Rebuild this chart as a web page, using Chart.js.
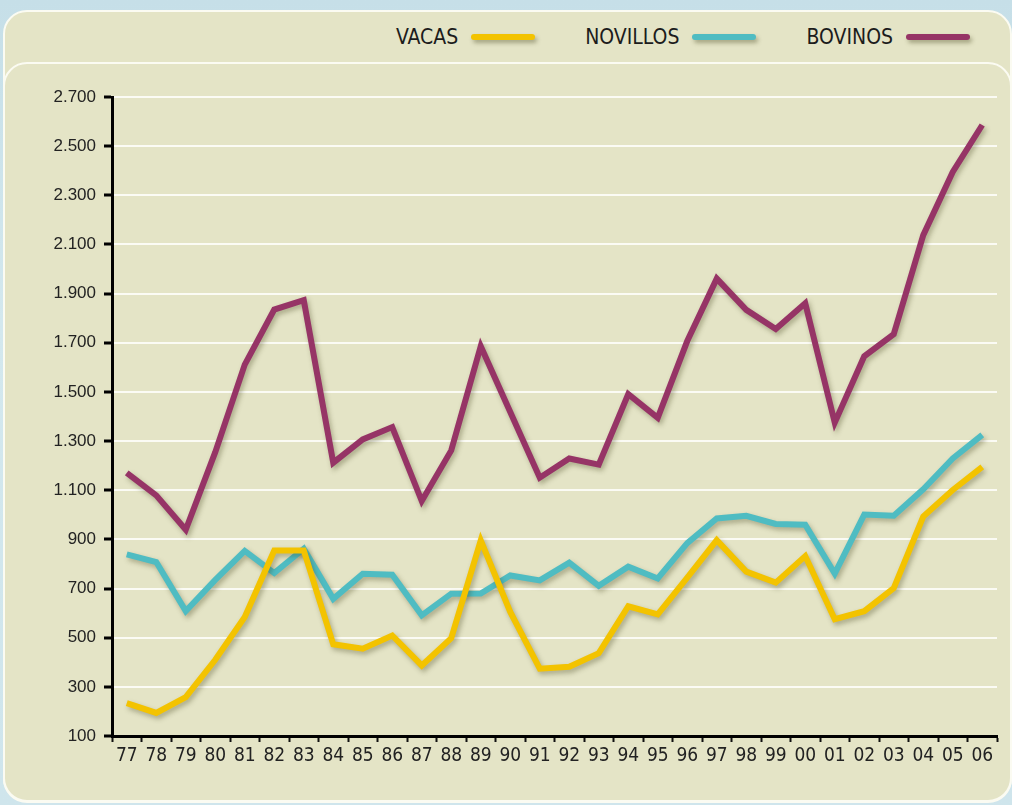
<!DOCTYPE html>
<html>
<head>
<meta charset="utf-8">
<script src="https://cdn.jsdelivr.net/npm/chart.js@4.4.1/dist/chart.umd.min.js"></script>
<style>
  html, body { margin: 0; padding: 0; }
  body {
    width: 1012px; height: 805px; overflow: hidden; position: relative;
    background: linear-gradient(180deg, #c6dfe8 0%, #d3e8ee 40%, #cfe5ec 100%);
  }
  .panel {
    position: absolute; left: 3px; top: 10px; width: 1005px; height: 789px;
    background: #e4e4c6; border: 2px solid #fbfbf2; border-radius: 24px;
  }
  .inner {
    position: absolute; left: 3px; top: 62px; width: 1005px; height: 736px;
    background: #e4e4c6; border: 2px solid #fbfbf2; border-radius: 24px;
  }
  #legend {
    position: absolute; top: 22px; right: 42px; height: 30px;
    display: flex; align-items: center; gap: 50px;
    font-family: 'Liberation Sans Narrow', 'DejaVu Sans Condensed', sans-serif;
    font-size: 21px; color: #1c1c1c;
  }
  #legend .item { display: flex; align-items: center; gap: 13px; }
  #legend .sw {
    width: 64px; height: 6px; border-radius: 3px;
    box-shadow: 2px 3px 4px rgba(70,70,30,0.4);
  }
  canvas { position: absolute; left: 0; top: 0; }
</style>
</head>
<body>
<div class="panel"></div>
<div class="inner"></div>
<div id="legend"></div>
<canvas id="chart" width="1012" height="805"></canvas>
<script>
// años (eje x)
const years = ['77','78','79','80','81','82','83','84','85','86','87','88','89','90','91',
               '92','93','94','95','96','97','98','99','00','01','02','03','04','05','06'];

const vacas = [234, 194, 258, 410, 584, 855, 855, 473, 455, 509, 387, 498, 896, 605, 374,
               382, 437, 628, 595, 744, 897, 769, 724, 832, 575, 608, 702, 993, 1101, 1195];

const novillos = [839, 808, 608, 735, 853, 763, 862, 658, 760, 756, 591, 679, 680, 753, 733,
                  805, 711, 789, 741, 885, 985, 996, 963, 960, 761, 1001, 996, 1104, 1229, 1325];

const bovinos = [1171, 1079, 939, 1255, 1611, 1835, 1873, 1212, 1307, 1357, 1056, 1262, 1686, 1418, 1151,
                 1229, 1204, 1491, 1395, 1707, 1961, 1834, 1756, 1861, 1375, 1645, 1735, 2138, 2395, 2586];

const seriesNames = ['VACAS', 'NOVILLOS', 'BOVINOS'];
const seriesColors = ['#f3c300', '#4fbcc2', '#963466'];

const yMin = 100, yMax = 2700, yStep = 200;

// leyenda: texto y luego la muestra de color
let legend = document.getElementById('legend');
seriesNames.forEach((name, i) => {
    let item = document.createElement('div');
    item.className = 'item';
    item.innerHTML = `<span>${name}</span><span class="sw" style="background:${seriesColors[i]}"></span>`;
    legend.appendChild(item);
});

// sombra debajo de las lineas
const lineShadow = {
    id: 'lineShadow',
    beforeDatasetsDraw(chart) {
        let ctx = chart.ctx;
        ctx.save();
        ctx.shadowColor = 'rgba(60,60,20,0.35)';
        ctx.shadowBlur = 5;
        ctx.shadowOffsetX = 2;
        ctx.shadowOffsetY = 3;
    },
    afterDatasetsDraw(chart) {
        chart.ctx.restore();
    }
};

const fmt = v => String(v).replace(/\B(?=(\d{3})+(?!\d))/g, '.');

const allData = [vacas, novillos, bovinos];

new Chart(document.getElementById('chart').getContext('2d'), {
    type: 'line',
    data: {
        labels: years,
        datasets: allData.map((d, i) => ({
            label: seriesNames[i],
            data: d,
            borderColor: seriesColors[i],
            backgroundColor: 'transparent',
            borderWidth: 6,
            pointRadius: 0,
            tension: 0,
            borderJoinStyle: 'miter',
            borderCapStyle: 'butt'
        }))
    },
    options: {
        responsive: false,
        animation: false,
        devicePixelRatio: 1,
        layout: { padding: { top: 97, right: 15, left: 0, bottom: 0 } },
        plugins: { legend: { display: false }, tooltip: { enabled: false } },
        scales: {
            x: {
                offset: true,
                grid: { offset: true, drawOnChartArea: false, tickColor: '#111', tickLength: 6, tickWidth: 2 },
                border: { color: '#000', width: 3 },
                ticks: {
                    color: '#222', padding: 3, maxRotation: 0, autoSkip: false,
                    font: { family: "'Liberation Sans Narrow', 'DejaVu Sans Condensed', sans-serif", size: 19 }
                },
                afterFit: (s) => { s.height = 69; }
            },
            y: {
                min: yMin, max: yMax,
                grid: { color: '#fbfbf4', lineWidth: 2, tickColor: '#000', tickLength: 8, tickWidth: 3 },
                border: { color: '#000', width: 3 },
                ticks: {
                    stepSize: yStep, color: '#222', padding: 8,
                    font: { family: "'Liberation Sans', Arial, sans-serif", size: 17 },
                    callback: (v) => fmt(v)
                },
                afterFit: (s) => { s.width = 112; }
            }
        }
    },
    plugins: [lineShadow]
});
</script>
</body>
</html>
